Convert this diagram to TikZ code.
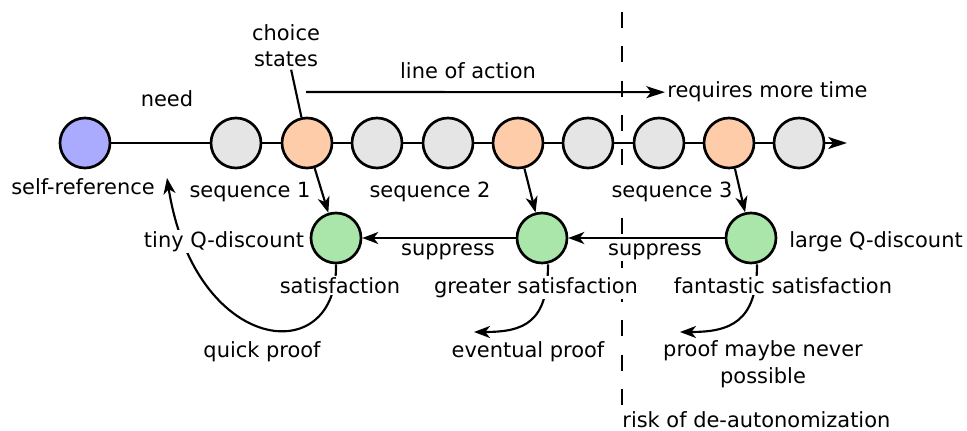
\documentclass[tikz,border=0pt]{standalone}
\usepackage{fontspec}
\setmainfont{DejaVu Sans}
\usetikzlibrary{arrows.meta}

\definecolor{selfblue}{RGB}{170,170,255}
\definecolor{choiceorange}{RGB}{255,204,170}
\definecolor{plaingray}{RGB}{229,229,229}
\definecolor{goalgreen}{RGB}{170,230,170}

\begin{document}
\begin{tikzpicture}[x=0.75pt, y=-0.75pt, line width=1.6pt,
		>={Stealth[length=12pt,width=9pt,inset=3.5pt]},
		state/.style={circle, draw, line width=2pt, minimum size=37.5pt, inner sep=0pt, fill=plaingray},
		choicestate/.style={state, fill=choiceorange},
		selfstate/.style={state, fill=selfblue},
		goal/.style={state, fill=goalgreen},
		lbl/.style={fill=white, anchor=base}]
				\tikzstyle{every node}=[align=center, inner sep=1pt, font=\fontsize{15.7pt}{20pt}\selectfont]
				\useasboundingbox (0,0) rectangle (967,431);

				% border of autonomy
				\coordinate (cuttop) at (622,12);
				\coordinate (cutbot) at (622,405);
				\draw[dash pattern=on 12pt off 13.7pt] (cuttop) -- (cutbot);

				\node[selfstate] (self) at (85,143) {};
				\node[state] (s1) at (236,143) {};
				\node[choicestate] (c1) at (307,143) {};
				\node[state] (s2) at (377,143) {};
				\node[state] (s3) at (448,143) {};
				\node[choicestate] (c2) at (518,143) {};
				\node[state] (s4) at (588,143) {};
				\node[state] (s5) at (659,143) {};
				\node[choicestate] (c3) at (729,143) {};
				\node[state] (s6) at (799,143) {};
				\coordinate (lineend) at (847,143);

				\node[goal] (g1) at (336,238) {};
				\node[goal] (g2) at (542,238) {};
				\node[goal] (g3) at (751,238) {};

				\draw[->, >={Stealth[length=14pt,width=9pt,inset=3.5pt]}] (self) -- (s1) -- (c1) -- (s2) -- (s3) -- (c2) -- (s4) -- (s5) -- (c3) -- (s6) -- (lineend);

				\draw[->]  (c1) to (g1);
				\draw[->]  (c2) to (g2);
				\draw[->]  (c3) to (g3);
				\draw[->]  (g3) to (g2);
				\draw[->]  (g2) to (g1);

				% proofs
				\coordinate (selfin) at (167,178);
				\coordinate (eventualin) at (474,332);
				\coordinate (neverin) at (680,332);
				\draw[->]  (g1.south) .. controls (338,370) and (195,355) .. (selfin);
				\draw[->]  ([xshift=4.5pt]g2.south) .. controls (548,322) and (525,332) .. (eventualin);
				\draw[->]  ([xshift=4.5pt]g3.south) .. controls (757,322) and (730,332) .. (neverin);

				\node[lbl] (choice) at (286,67) {choice\\states};
				\draw (choice) -- (c1);
				\node[lbl] (need) at (167,107) {need};
				\node[lbl] (action) at (468,79) {line of action};
				\coordinate (actstart) at (306,92);
				\node[lbl, anchor=base west] (time) at (665,98) {requires more time};
				\draw[->, >={Stealth[length=14pt,width=9pt,inset=3.5pt]}] (actstart) -- (time);

				\node[lbl] (selfref) at (83,195) {self-reference};
				\node[lbl] (seq1) at (250,198) {sequence 1};
				\node[lbl] (seq2) at (430,198) {sequence 2};
				\node[lbl] (seq3) at (672,198) {sequence 3};
				\node[lbl] (tiny) at (224,247) {tiny Q-discount};
				\node[lbl] (large) at (876,247) {large Q-discount};
				\node[lbl] (sup1) at (448,255) {suppress};
				\node[lbl] (sup2) at (655,255) {suppress};
				\node[lbl] (sat) at (340,293) {satisfaction};
				\node[lbl] (gsat) at (536,293) {greater satisfaction};
				\node[lbl] (fsat) at (783,293) {fantastic satisfaction};
				\node[lbl] (quick) at (262,357) {quick proof};
				\node[lbl] (eventual) at (528,357) {eventual proof};
				\node[lbl] (never) at (763,383) {proof maybe never\\possible};
				\node[lbl, anchor=base west] (risk) at (620,427) {risk of de-autonomization};

			\end{tikzpicture}
\end{document}
